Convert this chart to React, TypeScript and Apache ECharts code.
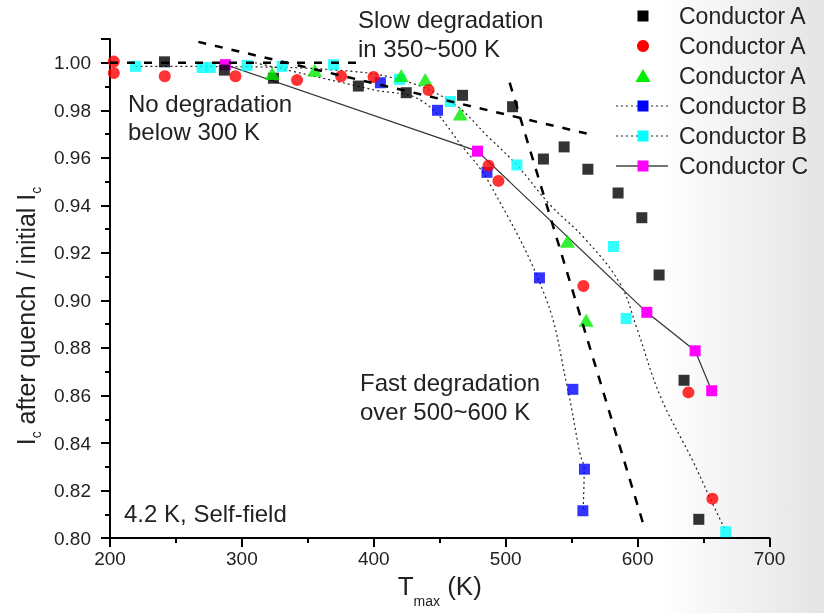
import React, { useEffect, useRef } from 'react';
import * as echarts from 'echarts';

// ---------- data (T_max in K, Ic ratio) ----------
const conductorA1: number[][] = [
  [241.3, 1.0004], [286.7, 0.9969], [323.9, 0.9935], [388.3, 0.9902], [424.6, 0.9874],
  [467.3, 0.9863], [505.2, 0.9815], [528.6, 0.9595], [544.3, 0.9646], [562.3, 0.9552],
  [585.2, 0.9452], [603.2, 0.9348], [616.3, 0.9107], [635.2, 0.8664], [646.4, 0.8079],
];
const conductorA2: number[][] = [
  [202.9, 1.0005], [202.9, 0.9957], [241.5, 0.9943], [295.1, 0.9943], [341.8, 0.9927],
  [375.2, 0.9943], [399.8, 0.994], [441.5, 0.9885], [487.0, 0.9567], [494.5, 0.9503],
  [558.9, 0.9061], [638.5, 0.8613], [656.7, 0.8166],
];
const conductorA3: number[][] = [
  [323.0, 0.9955], [355.2, 0.9968], [420.8, 0.9946], [439.0, 0.993], [465.5, 0.9784],
  [546.8, 0.9249], [561.0, 0.8917],
];
const conductorB1: number[][] = [
  [405.0, 0.9916], [448.3, 0.98], [485.8, 0.9539], [525.6, 0.9095], [550.9, 0.8626],
  [559.7, 0.829], [558.5, 0.8115],
];
const conductorB2: number[][] = [
  [219.3, 0.9985], [269.8, 0.998], [276.1, 0.998], [303.9, 0.9989], [330.5, 0.9985],
  [369.5, 0.9992], [419.5, 0.993], [458.0, 0.9837], [508.5, 0.957], [581.7, 0.9227],
  [591.3, 0.8924], [666.8, 0.8027],
];
const conductorC: number[][] = [
  [287.5, 0.9992], [478.6, 0.9628], [607.0, 0.895], [643.6, 0.8788], [656.2, 0.862],
];
// fitted guide curves for conductor B
const fitB1: number[][] = [
  [310, 1.0], [400, 0.9886], [436.5, 0.9839], [467.8, 0.9643], [488, 0.949], [530, 0.9016],
  [546.4, 0.8643], [556.4, 0.8353], [559.5, 0.829], [558.7, 0.8116],
];
const fitB2: number[][] = [
  [219.3, 0.9985], [300, 0.9983], [369.5, 0.997], [417.6, 0.9932], [458, 0.9837],
  [488.3, 0.968], [508.7, 0.9568], [533.7, 0.9402], [560, 0.926], [586.7, 0.907],
  [599.6, 0.888], [617, 0.86], [642, 0.8323], [653.4, 0.8186], [666.8, 0.8029],
];
// annotation guide lines
const noDegLine: number[][] = [[200, 1.0], [393, 1.0]];
const slowDegLine: number[][] = [[267, 1.0088], [563, 0.970]];
const fastDegLine: number[][] = [[503, 0.9916], [604, 0.8065]];

const xTicks = { min: 200, max: 700, interval: 100 };
const yTicks = { min: 0.8, max: 1.01, interval: 0.02 };

const legendItems = [
  { label: 'Conductor A', symbol: 'square', color: '#000000', line: 'none' },
  { label: 'Conductor A', symbol: 'circle', color: '#ff0000', line: 'none' },
  { label: 'Conductor A', symbol: 'triangle', color: '#00ee00', line: 'none' },
  { label: 'Conductor B', symbol: 'square', color: '#0000ff', line: 'dotted' },
  { label: 'Conductor B', symbol: 'square', color: '#00ffff', line: 'dotted' },
  { label: 'Conductor C', symbol: 'square', color: '#ff00ff', line: 'solid' },
];

const FONT = '"Liberation Sans", Arial, sans-serif';

function buildLegend() {
  const els: any[] = [];
  const x0 = 643;
  const y0 = 16;
  const gap = 30;
  legendItems.forEach((it, i) => {
    const cy = y0 + i * gap;
    if (it.line !== 'none') {
      els.push({
        type: 'line',
        shape: { x1: 616, y1: cy, x2: 668, y2: cy },
        style: {
          stroke: it.line === 'solid' ? '#444' : '#222',
          lineWidth: it.line === 'solid' ? 1.5 : 1.2,
          lineDash: it.line === 'dotted' ? [2, 3] : null,
        },
        z: 100,
      });
    }
    if (it.symbol === 'square') {
      els.push({ type: 'rect', shape: { x: x0 - 5.5, y: cy - 5.5, width: 11, height: 11 }, style: { fill: it.color }, z: 101 });
    } else if (it.symbol === 'circle') {
      els.push({ type: 'circle', shape: { cx: x0, cy, r: 6 }, style: { fill: it.color }, z: 101 });
    } else {
      els.push({ type: 'polygon', shape: { points: [[x0, cy - 7], [x0 + 7.5, cy + 6], [x0 - 7.5, cy + 6]] }, style: { fill: it.color }, z: 101 });
    }
    els.push({
      type: 'text', x: 679, y: cy,
      style: { text: it.label, fill: '#222', font: `23px ${FONT}`, verticalAlign: 'middle', align: 'left' },
      z: 101,
    });
  });
  return els;
}

function annotation(text: string, x: number, y: number) {
  return {
    type: 'text', x, y,
    style: { text, fill: '#222', font: `24px ${FONT}`, verticalAlign: 'middle', align: 'left' },
    z: 100,
  };
}

export default function App() {
  const ref = useRef<HTMLDivElement>(null);
  useEffect(() => {
    const chart = echarts.init(ref.current!, null, { renderer: 'svg' });
    const axisLineStyle = { color: '#000', width: 2 };
    const option: any = {
      animation: false,
      backgroundColor: 'transparent',
      grid: { left: 110, width: 659.5, top: 39, height: 506, containLabel: false },
      xAxis: {
        type: 'value',
        min: xTicks.min, max: xTicks.max, interval: xTicks.interval,
        axisLine: { show: true, onZero: false, lineStyle: axisLineStyle },
        axisTick: { show: true, length: 9, lineStyle: { color: '#000', width: 2 } },
        minorTick: { show: true, splitNumber: 2, length: 5, lineStyle: { color: '#000', width: 2 } },
        splitLine: { show: false },
        axisLabel: { color: '#222', fontSize: 19, fontFamily: FONT, margin: 11 },
        name: '{n|T}{s|max}{n| (K)}',
        nameLocation: 'middle',
        nameGap: 31,
        nameTextStyle: {
          rich: {
            n: { fontSize: 26, fontFamily: FONT, color: '#222', verticalAlign: 'top' },
            s: { fontSize: 14, fontFamily: FONT, color: '#222', padding: [21, 0, 0, 0], verticalAlign: 'top' },
          },
        },
      },
      yAxis: [
        {
          type: 'value', position: 'left',
          min: yTicks.min, max: yTicks.max, interval: yTicks.interval / 2,
          axisLine: { show: true, onZero: false, lineStyle: axisLineStyle },
          axisTick: { show: true, length: 5, lineStyle: { color: '#000', width: 2 } },
          splitLine: { show: false },
          axisLabel: {
            color: '#222', fontSize: 19, fontFamily: FONT, margin: 19,
            formatter: (v: number) => {
              const k = Math.round(v * 100);
              return k % 2 === 0 && k <= 100 ? v.toFixed(2) : '';
            },
          },
        },
        {
          type: 'value', position: 'left', offset: 0,
          min: yTicks.min, max: yTicks.max, interval: yTicks.interval,
          axisLine: { show: false },
          axisTick: { show: true, length: 9, lineStyle: { color: '#000', width: 2 } },
          axisLabel: { show: false },
          splitLine: { show: false },
        },
      ],
      graphic: [
        {
          type: 'rect', silent: true, z: -10,
          shape: { x: 0, y: 0, width: 824, height: 613 },
          style: {
            fill: new echarts.graphic.LinearGradient(0, 0, 1, 0, [
              { offset: 0, color: '#ffffff' },
              { offset: 0.8, color: '#ffffff' },
              { offset: 1, color: '#e4e4e4' },
            ]),
          },
        },
        {
          type: 'text', x: 28, y: 316, rotation: Math.PI / 2, z: 100,
          style: {
            text: '{n|I}{s|c}{n| after quench / initial I}{s|c}',
            align: 'center', verticalAlign: 'middle',
            rich: {
              n: { fontSize: 25, fontFamily: FONT, fill: '#222', verticalAlign: 'top' },
              s: { fontSize: 14, fontFamily: FONT, fill: '#222', padding: [15, 0, 0, 0], verticalAlign: 'top' },
            },
          },
        },
        ...buildLegend(),
        annotation('Slow degradation', 358, 19),
        annotation('in 350~500 K', 358, 48),
        annotation('No degradation', 128, 103),
        annotation('below 300 K', 128, 131),
        annotation('Fast degradation', 360, 382),
        annotation('over 500~600 K', 360, 411),
        annotation('4.2 K, Self-field', 124, 513),
      ],
      series: [
        {
          type: 'line', data: fitB1, smooth: 0.4, showSymbol: false, silent: true, z: 2,
          lineStyle: { color: '#222', width: 1.2, type: [2, 3] },
        },
        {
          type: 'line', data: fitB2, smooth: 0.4, showSymbol: false, silent: true, z: 2,
          lineStyle: { color: '#222', width: 1.2, type: [2, 3] },
        },
        {
          type: 'line', data: conductorC, smooth: false, symbol: 'rect', symbolSize: 11, z: 3,
          lineStyle: { color: '#333', width: 1.2 },
          itemStyle: { color: '#ff00ff' },
        },
        { type: 'scatter', data: conductorA1, symbol: 'rect', symbolSize: 11, itemStyle: { color: '#000000' }, z: 4 },
        { type: 'scatter', data: conductorB2, symbol: 'rect', symbolSize: 11, itemStyle: { color: '#00ffff' }, z: 4 },
        { type: 'scatter', data: conductorB1, symbol: 'rect', symbolSize: 11, itemStyle: { color: '#0000ff' }, z: 4 },
        { type: 'scatter', data: conductorA3, symbol: 'triangle', symbolSize: [15, 13], itemStyle: { color: '#00ee00' }, z: 4 },
        { type: 'scatter', data: conductorA2, symbol: 'circle', symbolSize: 12, itemStyle: { color: '#ff0000' }, z: 4 },
        {
          type: 'line', data: noDegLine, showSymbol: false, silent: true, z: 5,
          lineStyle: { color: '#000', width: 2.5, type: [8, 9] },
        },
        {
          type: 'line', data: slowDegLine, showSymbol: false, silent: true, z: 5,
          lineStyle: { color: '#000', width: 2.5, type: [8, 9] },
        },
        {
          type: 'line', data: fastDegLine, showSymbol: false, silent: true, z: 5,
          lineStyle: { color: '#000', width: 2.5, type: [9, 9] },
        },
      ],
    };
    chart.setOption(option);
    return () => chart.dispose();
  }, []);
  return <div ref={ref} style={{ position: 'fixed', left: 0, top: 0, width: 824, height: 613 }} />;
}
